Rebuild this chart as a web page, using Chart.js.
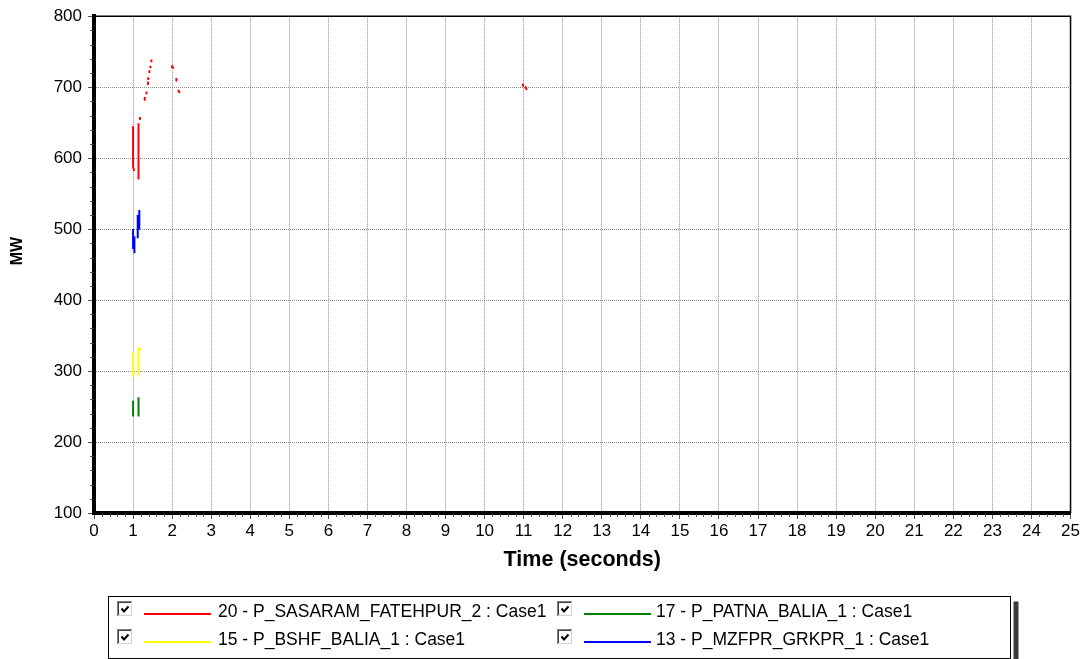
<!DOCTYPE html>
<html>
<head>
<meta charset="utf-8">
<title>MW flows</title>
<script src="https://cdn.jsdelivr.net/npm/chart.js@4.4.1/dist/chart.umd.min.js"></script>
<style>
  html, body { margin: 0; padding: 0; background: #ffffff; }
  canvas { display: block; }
</style>
</head>
<body>
<canvas id="flows" width="1082" height="659"></canvas>
<script>
// Axis tick labels
const timeTickLabels = ['0','1','2','3','4','5','6','7','8','9','10','11','12','13','14','15','16','17','18','19','20','21','22','23','24','25'];
const mwTickLabels = ['100','200','300','400','500','600','700','800'];

// Recorded samples per branch (time in s, power in MW); null marks a break in the trace
const sasaramTime = [1.00, 1.00, 1.03, null, 1.14, 1.14, null, 1.175, 1.18, null, 1.30, 1.30, null, 1.345, 1.345, null,
                     1.385, 1.385, null, 1.39, 1.39, null, 1.42, 1.42, null, 1.43, 1.46, null, 1.47, 1.47, null,
                     2.00, 2.00, 2.045, null, 2.11, 2.11, null, 2.15, 2.20, null, 10.97, 10.99, null, 11.04, 11.08];
const sasaramMW   = [645, 588, 582, null, 649, 570, null, 658, 654, null, 686, 681, null, 694, 690, null,
                     708, 703, null, 714, 710, null, 724, 720, null, 730, 727, null, 739, 735, null,
                     731, 728, 727, null, 713, 708, null, 696, 692, null, 705, 701, null, 701, 696];

const patnaTime = [1.00, 1.00, null, 1.14, 1.14];
const patnaMW   = [258, 236, null, 263, 236];

const bshfTime = [1.00, 1.00, null, 1.14, 1.14, null, 1.18, 1.18];
const bshfMW   = [327, 292, null, 334, 294, null, 332, 329];

const mzfprTime = [1.00, 1.00, null, 1.035, 1.035, null, 1.12, 1.12, null, 1.16, 1.16];
const mzfprMW   = [500, 472, null, 490, 466, null, 520, 487, null, 527, 499];

const seriesLabels = ['20 - P_SASARAM_FATEHPUR_2 : Case1', '17 - P_PATNA_BALIA_1 : Case1',
                      '15 - P_BSHF_BALIA_1 : Case1', '13 - P_MZFPR_GRKPR_1 : Case1'];
const seriesColors = ['#ff0000', '#008000', '#ffff00', '#0000ff'];

function toPoints(times, values) {
  return times.map((t, i) => ({ x: t, y: values[i] }));
}

const FONT = "'Liberation Sans', Arial, sans-serif";
Chart.defaults.font.family = FONT;
Chart.defaults.color = '#000000';

// Minor tick marks, plot frame, vertical axis title and the check-box legend
const decorations = {
  id: 'decorations',
  afterDraw(chart) {
    const ctx = chart.ctx;
    const area = chart.chartArea;
    const xs = chart.scales.x;
    const ys = chart.scales.y;
    ctx.save();

    // minor ticks
    ctx.strokeStyle = '#555555';
    ctx.lineWidth = 1;
    ctx.beginPath();
    for (let i = 0; i <= 125; i++) {
      if (i % 5 === 0) continue;
      const px = Math.round(xs.getPixelForValue(i / 5)) + 0.5;
      ctx.moveTo(px, area.bottom + 1);
      ctx.lineTo(px, area.bottom + 4);
    }
    for (let v = 100; v <= 800; v += 20) {
      if (v % 100 === 0) continue;
      const py = Math.round(ys.getPixelForValue(v)) + 0.5;
      ctx.moveTo(area.left - 1, py);
      ctx.lineTo(area.left - 4, py);
    }
    ctx.stroke();

    // top and right frame
    ctx.strokeStyle = '#000000';
    ctx.lineWidth = 1.5;
    ctx.beginPath();
    ctx.moveTo(area.left, area.top);
    ctx.lineTo(area.right, area.top);
    ctx.lineTo(area.right, area.bottom);
    ctx.stroke();

    // vertical axis title
    ctx.save();
    ctx.translate(18, 251);
    ctx.rotate(-Math.PI / 2);
    ctx.font = 'bold 16px ' + FONT;
    ctx.fillStyle = '#000000';
    ctx.textAlign = 'center';
    ctx.textBaseline = 'middle';
    ctx.fillText('MW', 0, 0);
    ctx.restore();

    // legend panel
    const bx = 108.5, by = 596.5, bw = 902, bh = 62;
    ctx.fillStyle = '#3a3a3a';
    ctx.fillRect(bx + bw + 3, by + 5, 5, 70);
    ctx.fillStyle = '#ffffff';
    ctx.fillRect(bx, by, bw, bh);
    ctx.strokeStyle = '#000000';
    ctx.lineWidth = 1;
    ctx.strokeRect(bx, by, bw, bh);

    const cols = [117, 557];
    const rows = [601, 629];
    chart.data.datasets.forEach((ds, i) => {
      const cx = cols[i % 2];
      const cy = rows[Math.floor(i / 2)];
      const textGap = i % 2 === 0 ? 101 : 99;
      // sunken check box
      ctx.fillStyle = '#ffffff';
      ctx.fillRect(cx, cy, 16, 16);
      ctx.fillStyle = '#808080';
      ctx.fillRect(cx, cy, 16, 1);
      ctx.fillRect(cx, cy, 1, 16);
      ctx.fillStyle = '#404040';
      ctx.fillRect(cx + 1, cy + 1, 14, 1);
      ctx.fillRect(cx + 1, cy + 1, 1, 14);
      ctx.fillStyle = '#d4d4d4';
      ctx.fillRect(cx + 1, cy + 14, 14, 1);
      ctx.fillRect(cx + 14, cy + 1, 1, 14);
      ctx.fillStyle = '#ffffff';
      ctx.fillRect(cx, cy + 15, 16, 1);
      ctx.fillRect(cx + 15, cy, 1, 16);
      // tick mark
      ctx.strokeStyle = '#000000';
      ctx.lineWidth = 2;
      ctx.beginPath();
      ctx.moveTo(cx + 4.5, cy + 7.5);
      ctx.lineTo(cx + 7, cy + 10.5);
      ctx.lineTo(cx + 11.5, cy + 5.5);
      ctx.stroke();
      // series swatch
      const ly = cy + 13;
      ctx.strokeStyle = ds.borderColor;
      ctx.lineWidth = 2;
      ctx.beginPath();
      ctx.moveTo(cx + 27, ly);
      ctx.lineTo(cx + 94, ly);
      ctx.stroke();
      // label
      ctx.fillStyle = '#000000';
      ctx.font = '17.5px ' + FONT;
      ctx.textAlign = 'left';
      ctx.textBaseline = 'middle';
      ctx.fillText(ds.label, cx + textGap, cy + 11);
    });
    ctx.restore();
  }
};

const datasets = [
  toPoints(sasaramTime, sasaramMW),
  toPoints(patnaTime, patnaMW),
  toPoints(bshfTime, bshfMW),
  toPoints(mzfprTime, mzfprMW)
].map((pts, i) => ({
  label: seriesLabels[i],
  data: pts,
  borderColor: seriesColors[i],
  backgroundColor: seriesColors[i],
  borderWidth: 2,
  pointRadius: 0,
  fill: false,
  spanGaps: false,
  tension: 0
}));

new Chart(document.getElementById('flows'), {
  type: 'line',
  data: { datasets },
  plugins: [decorations],
  options: {
    responsive: false,
    animation: false,
    devicePixelRatio: 1,
    events: [],
    layout: { padding: { top: 16, right: 10, bottom: 76, left: 0 } },
    plugins: { legend: { display: false }, tooltip: { enabled: false } },
    scales: {
      x: {
        type: 'linear',
        min: 0,
        max: 25,
        afterFit(scale) { scale.height = 70; },
        ticks: {
          stepSize: 1,
          autoSkip: false,
          maxRotation: 0,
          padding: 2,
          font: { size: 17 },
          color: '#000000',
          callback: (v) => timeTickLabels[v]
        },
        grid: { color: '#8a8a8a', lineWidth: 1, tickLength: 6, tickColor: '#555555' },
        border: { display: true, color: '#000000', width: 4, dash: [1, 1] },
        title: {
          display: true,
          text: 'Time (seconds)',
          font: { size: 21.5, weight: 'bold' },
          color: '#000000',
          padding: { top: 0, bottom: 10 }
        }
      },
      y: {
        type: 'linear',
        min: 100,
        max: 800,
        afterFit(scale) { scale.width = 94; },
        ticks: {
          stepSize: 100,
          padding: 6,
          font: { size: 17 },
          color: '#000000',
          callback: (v) => mwTickLabels[(v - 100) / 100]
        },
        grid: { color: '#8a8a8a', lineWidth: 1, tickLength: 6, tickColor: '#555555' },
        border: { display: true, color: '#000000', width: 4, dash: [1, 1] }
      }
    }
  }
});
</script>
</body>
</html>
